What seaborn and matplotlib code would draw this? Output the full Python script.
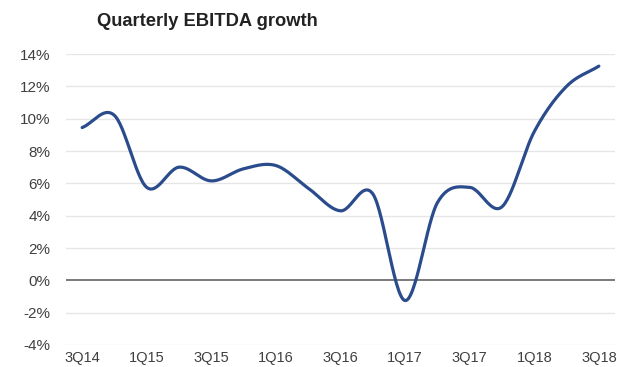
import numpy as np
import pandas as pd
import matplotlib
matplotlib.use("Agg")
import matplotlib.pyplot as plt
import seaborn as sns

# Quarterly EBITDA growth, % year on year
quarters = ["3Q14", "4Q14", "1Q15", "2Q15", "3Q15", "4Q15", "1Q16", "2Q16", "3Q16",
            "4Q16", "1Q17", "2Q17", "3Q17", "4Q17", "1Q18", "2Q18", "3Q18"]
growth = [9.45, 10.2, 5.75, 7.0, 6.15, 6.9, 7.1, 5.7, 4.3,
          5.35, -1.25, 4.8, 5.75, 4.55, 9.2, 12.0, 13.25]
tick_labels = ["3Q14", "1Q15", "3Q15", "1Q16", "3Q16", "1Q17", "3Q17", "1Q18", "3Q18"]
y_ticks = [-4, -2, 0, 2, 4, 6, 8, 10, 12, 14]

LINE = "#2B4C8C"
TEXT = "#404040"


def smooth(xs, ys, steps=30):
    """Catmull-Rom curve through the points (spreadsheet-style smoothed line)."""
    xs = np.asarray(xs, float)
    ys = np.asarray(ys, float)
    px = np.concatenate([[2 * xs[0] - xs[1]], xs, [2 * xs[-1] - xs[-2]]])
    py = np.concatenate([[2 * ys[0] - ys[1]], ys, [2 * ys[-1] - ys[-2]]])
    out_x, out_y = [], []
    t = np.linspace(0, 1, steps, endpoint=False)
    for i in range(1, len(px) - 2):
        for arr, out in ((px, out_x), (py, out_y)):
            p0, p1, p2, p3 = arr[i - 1], arr[i], arr[i + 1], arr[i + 2]
            out.extend(0.5 * ((2 * p1) + (-p0 + p2) * t
                              + (2 * p0 - 5 * p1 + 4 * p2 - p3) * t ** 2
                              + (-p0 + 3 * p1 - 3 * p2 + p3) * t ** 3))
    out_x.append(xs[-1])
    out_y.append(ys[-1])
    return np.array(out_x), np.array(out_y)


sns.set_style("white")
plt.rcParams["font.family"] = ["Liberation Sans", "DejaVu Sans"]

pos = np.arange(len(quarters))
sx, sy = smooth(pos, growth)
curve = pd.DataFrame({"x": sx, "growth": sy})

fig = plt.figure(figsize=(6.17, 3.67), dpi=100)
ax = fig.add_axes([66 / 617, 1 - 345 / 367, (615 - 66) / 617, (345 - 54) / 367])

for v in y_ticks:
    if v == 0:
        continue
    ax.axhline(v, color="#e6e6e6", lw=1.0, zorder=0)
ax.axhline(0, color="#7a7a7a", lw=1.4, zorder=1)

sns.lineplot(data=curve, x="x", y="growth", ax=ax, color=LINE, lw=2.3,
             sort=False, zorder=3)

ax.set_xlim(-0.5, len(quarters) - 0.5)
ax.set_ylim(-4, 14)
ax.set_yticks(y_ticks)
ax.set_yticklabels([f"{v}%" for v in y_ticks])
ax.set_xticks([quarters.index(q) for q in tick_labels])
ax.set_xticklabels(tick_labels)
ax.tick_params(axis="y", length=0, pad=11, labelsize=11, labelcolor=TEXT)
ax.tick_params(axis="x", length=0, pad=4, labelsize=10.5, labelcolor=TEXT)
ax.set_xlabel("")
ax.set_ylabel("")
for s in ax.spines.values():
    s.set_visible(False)

fig.text(97 / 617, 1 - 22 / 367, "Quarterly EBITDA growth", fontsize=13.2,
         fontweight="bold", color="#222222", ha="left", va="center")

fig.savefig("out.png", dpi=100)
